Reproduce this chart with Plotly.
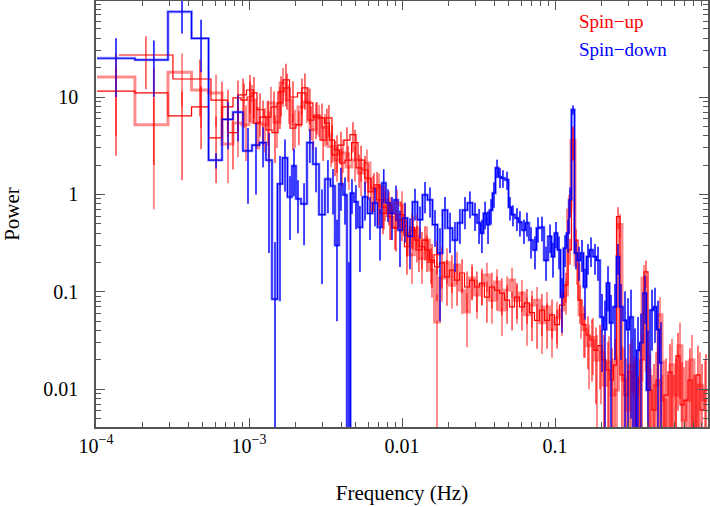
import numpy as np
import plotly.graph_objects as go

# ---------------- data ----------------
# Spin-down (blue)
f_down = [1.351e-4, 2.39e-4, 3.65e-4, 4.86e-4, 6.09e-4, 7.29e-4, 8.47e-4, 9.85e-4, 1.111e-3, 1.235e-3,
          1.351e-3, 1.479e-3, 1.594e-3, 1.719e-3, 1.853e-3, 1.968e-3, 2.09e-3, 2.29e-3, 2.50e-3, 2.74e-3,
          3.0e-3, 3.28e-3, 3.54e-3, 3.76e-3, 3.99e-3, 4.24e-3, 4.50e-3, 4.71e-3, 5.0e-3, 5.31e-3,
          5.73e-3, 6.18e-3, 6.66e-3, 7.18e-3, 7.6e-3, 8.1e-3, 8.6e-3, 9.14e-3, 9.70e-3, 1.046e-2,
          1.128e-2, 1.216e-2, 1.311e-2, 1.414e-2, 1.524e-2, 1.643e-2, 1.772e-2, 1.91e-2, 2.06e-2, 2.22e-2,
          2.39e-2, 2.58e-2, 2.78e-2, 3.0e-2, 3.19e-2, 3.33e-2, 3.49e-2, 3.65e-2, 3.82e-2, 3.99e-2,
          4.18e-2, 4.37e-2, 4.57e-2, 4.86e-2, 5.08e-2, 5.31e-2, 5.64e-2, 5.90e-2, 6.27e-2, 6.56e-2,
          6.97e-2, 7.40e-2, 7.74e-2, 8.22e-2, 8.74e-2, 9.28e-2, 9.70e-2, 0.1015, 0.1062, 0.1111,
          0.1163, 0.1216, 0.1253, 0.1311, 0.1372, 0.1435, 0.1501, 0.1571, 0.1643, 0.1719,
          0.1826, 0.191, 0.2029, 0.2122, 0.2221, 0.2323, 0.2467, 0.2581, 0.270, 0.2868,
          0.300, 0.3139, 0.3334, 0.3487, 0.3649, 0.3874, 0.4053, 0.4305, 0.4503, 0.4712, 0.493]
p_down = [25, 24, 75, 40, 2.25, 5.9, 7.0, 2.8, 3.2, 3.4,
          2.25, 0.084, 1.28, 2.37, 0.94, 1.96, 0.90, 0.80, 3.4, 2.05,
          0.62, 1.44, 1.22, 0.30, 1.28, 0.99, 0.001, 1.03, 0.84, 0.46,
          0.94, 0.64, 0.82, 0.46, 1.31, 0.82, 0.64, 0.88, 0.43, 0.57,
          0.37, 0.84, 0.55, 0.99, 0.88, 0.49, 0.25, 0.69, 0.45, 0.34,
          0.51, 0.69, 0.82, 0.62, 0.51, 0.40, 0.64, 0.49, 0.69, 1.03,
          1.87, 1.51, 1.47, 1.41, 0.74, 0.62, 0.57, 0.52, 0.43, 0.51,
          0.34, 0.27, 0.45, 0.46, 0.21, 0.37, 0.23, 0.40, 0.27, 0.088,
          0.28, 0.40, 0.88, 7.4, 0.25, 0.21, 0.25, 0.112, 0.23, 0.27,
          0.23, 0.21, 0.055, 0.041, 0.123, 0.048, 0.070, 0.23, 0.070, 0.051,
          0.041, 0.055, 0.002, 0.025, 0.030, 0.097, 0.0098, 0.065, 0.070, 0.041, 0.0186]
e_down = [15, 14, 30, 22, 0.4, 3, 3.5, 2, 2.2, 1.5,
          2, 0.24, 1.2, 1.3, 0.6, 1.0, 0.5, 0.5, 1.3, 1.0,
          0.5, 0.8, 0.6, 0.25, 0.6, 0.5, 0.2, 0.4, 0.4, 0.3,
          0.4, 0.3, 0.35, 0.25, 0.5, 0.3, 0.3, 0.35, 0.25, 0.25,
          0.2, 0.3, 0.2, 0.35, 0.3, 0.2, 0.2, 0.25, 0.2, 0.18,
          0.2, 0.25, 0.25, 0.2, 0.2, 0.15, 0.2, 0.18, 0.2, 0.3,
          0.4, 0.35, 0.3, 0.3, 0.2, 0.15, 0.15, 0.15, 0.12, 0.14,
          0.12, 0.1, 0.13, 0.13, 0.08, 0.12, 0.09, 0.12, 0.1, 0.05,
          0.1, 0.15, 0.3, 0.8, 0.08, 0.08, 0.09, 0.06, 0.08, 0.09,
          0.08, 0.08, 0.04, 0.04, 0.06, 0.045, 0.05, 0.08, 0.05, 0.05,
          0.045, 0.05, 0.04, 0.03, 0.03, 0.05, 0.03, 0.04, 0.04, 0.04, 0.03]

# Spin-up (red), spectrum A (thin)
f_upA = [1.351e-4, 2.39e-4, 3.65e-4, 4.86e-4, 6.09e-4, 7.29e-4, 8.47e-4, 9.28e-4, 1.015e-3, 1.078e-3,
         1.18e-3, 1.331e-3, 1.457e-3, 1.594e-3, 1.745e-3, 1.939e-3, 2.22e-3, 2.50e-3, 2.74e-3, 3.0e-3,
         3.23e-3, 3.49e-3, 3.76e-3, 4.05e-3, 4.44e-3, 4.93e-3, 5.40e-3, 6.0e-3, 6.56e-3, 7.07e-3,
         7.62e-3, 8.35e-3, 9.14e-3, 1.0e-2, 1.078e-2, 1.163e-2, 1.253e-2, 1.351e-2, 1.457e-2, 1.571e-2,
         1.693e-2, 1.826e-2, 1.968e-2, 2.12e-2, 2.29e-2, 2.47e-2, 2.66e-2, 2.87e-2, 3.09e-2, 3.33e-2,
         3.59e-2, 3.87e-2, 4.18e-2, 4.50e-2, 4.86e-2, 5.24e-2, 5.64e-2, 6.08e-2, 6.56e-2, 7.07e-2,
         7.63e-2, 8.22e-2, 8.87e-2, 9.56e-2, 0.1031, 0.1111, 0.118, 0.1253, 0.1311, 0.1372,
         0.1457, 0.1547, 0.1643, 0.1745, 0.1853, 0.1968, 0.209, 0.2221, 0.2358, 0.2467,
         0.2581, 0.2741, 0.2912, 0.3093, 0.3284, 0.3487, 0.3703, 0.3933, 0.4177, 0.4437,
         0.4712, 0.5004, 0.5314, 0.5644, 0.5994, 0.6366, 0.676, 0.718, 0.7625, 0.8098,
         0.86, 0.9134, 0.9702]
p_upA = [11.5, 11, 6.4, 7.9, 3.8, 7.9, 9.8, 9.3, 10, 11,
         7.4, 6.2, 7.9, 8.7, 15, 10, 11, 8.7, 6.2, 6.1,
         5.4, 3.6, 2.86, 2.1, 2.25, 3.4, 2.25, 1.47, 1.16, 0.88,
         0.74, 0.59, 0.46, 0.55, 0.29, 0.46, 0.34, 0.29, 0.27, 0.21,
         0.18, 0.198, 0.142, 0.167, 0.132, 0.156, 0.112, 0.132, 0.112, 0.123,
         0.088, 0.112, 0.104, 0.097, 0.082, 0.070, 0.088, 0.070, 0.077, 0.061,
         0.051, 0.065, 0.051, 0.058, 0.046, 0.073, 0.117, 0.27, 3.6, 0.34,
         0.082, 0.046, 0.036, 0.032, 0.025, 0.028, 0.020, 0.0157, 0.0124, 0.0177,
         0.59, 0.014, 0.0087, 0.015, 0.0098, 0.002, 0.020, 0.16, 0.0098, 0.0061,
         0.0124, 0.002, 0.0087, 0.015, 0.002, 0.022, 0.0069, 0.0077, 0.0124, 0.002,
         0.014, 0.0061, 0.0098]
e_upA = [9, 9, 5, 5, 2.5, 4, 5, 4.5, 4.5, 5,
         3.5, 3, 3.5, 4, 7, 4.5, 4.5, 3.5, 2.5, 2.5,
         2.2, 1.5, 1.2, 0.9, 0.9, 1.2, 0.9, 0.6, 0.5, 0.4,
         0.3, 0.25, 0.2, 0.22, 0.14, 0.18, 0.14, 0.12, 0.11, 0.1,
         0.1, 0.09, 0.07, 0.07, 0.06, 0.06, 0.05, 0.05, 0.05, 0.05,
         0.04, 0.045, 0.04, 0.04, 0.035, 0.03, 0.035, 0.03, 0.03, 0.03,
         0.025, 0.03, 0.025, 0.025, 0.02, 0.03, 0.04, 0.08, 1.3, 0.1,
         0.035, 0.025, 0.02, 0.02, 0.018, 0.018, 0.016, 0.015, 0.014, 0.015,
         0.15, 0.014, 0.012, 0.014, 0.012, 0.012, 0.016, 0.05, 0.013, 0.012,
         0.014, 0.012, 0.012, 0.014, 0.012, 0.016, 0.012, 0.012, 0.014, 0.012,
         0.014, 0.012, 0.013]

# Spin-up (red), spectrum B (translucent)
f_upB = [1.351e-4, 2.39e-4, 3.65e-4, 4.86e-4, 6.09e-4, 7.29e-4, 8.47e-4, 9.56e-4, 1.046e-3, 1.163e-3,
         1.273e-3, 1.392e-3, 1.524e-3, 1.668e-3, 1.826e-3, 1.998e-3, 2.19e-3, 2.39e-3, 2.62e-3, 2.87e-3,
         3.14e-3, 3.44e-3, 3.76e-3, 4.12e-3, 4.50e-3, 4.93e-3, 5.40e-3, 5.90e-3, 6.46e-3, 7.07e-3,
         7.74e-3, 8.47e-3, 9.28e-3, 1.0e-2, 1.078e-2, 1.163e-2, 1.253e-2, 1.351e-2, 1.457e-2, 1.571e-2,
         1.693e-2, 1.826e-2, 1.968e-2, 2.12e-2, 2.29e-2, 2.47e-2, 2.66e-2, 2.87e-2, 3.09e-2, 3.33e-2,
         3.59e-2, 3.87e-2, 4.18e-2, 4.50e-2, 4.86e-2, 5.24e-2, 5.64e-2, 6.08e-2, 6.56e-2, 7.07e-2,
         7.63e-2, 8.22e-2, 8.87e-2, 9.56e-2, 0.1031, 0.1111, 0.118, 0.1235, 0.1311, 0.1392,
         0.1479, 0.1571, 0.1668, 0.1772, 0.1882, 0.1998, 0.2122, 0.2254, 0.2393, 0.2542,
         0.2659, 0.2825, 0.300, 0.3187, 0.3384, 0.3594, 0.3817, 0.4053, 0.4305, 0.4572,
         0.4857, 0.5157, 0.5478, 0.5817, 0.6178, 0.6561, 0.6967, 0.7399, 0.7859, 0.8346,
         0.8864, 0.9559]
p_upB = [16, 5.2, 18, 11.8, 11, 3.3, 5.4, 5.2, 9.3, 5.4,
         5.2, 8.7, 5.5, 13.9, 9.3, 5.2, 7.9, 8.9, 4.6, 6.1,
         4.9, 3.1, 2.25, 2.66, 1.91, 2.25, 1.66, 2.1, 1.11, 1.19,
         0.88, 0.64, 0.82, 0.78, 0.40, 0.24, 0.45, 0.22, 0.34, 0.167,
         0.049, 0.139, 0.20, 0.117, 0.188, 0.104, 0.062, 0.139, 0.093, 0.117,
         0.149, 0.082, 0.126, 0.065, 0.104, 0.132, 0.082, 0.097, 0.058, 0.073,
         0.082, 0.048, 0.070, 0.041, 0.054, 0.065, 0.093, 0.69, 3.6, 0.188,
         0.058, 0.041, 0.028, 0.034, 0.020, 0.024, 0.011, 0.019, 0.0087, 0.0098,
         0.49, 0.0124, 0.0061, 0.0177, 0.0087, 0.0124, 0.139, 0.0157, 0.002, 0.011,
         0.058, 0.0077, 0.002, 0.0177, 0.0087, 0.028, 0.0048, 0.0077, 0.020, 0.002,
         0.011, 0.0077]
e_upB = [12, 4.5, 10, 7, 6, 2, 3, 3, 4, 2.5,
         2.5, 4, 2.5, 6, 4, 2.2, 3, 3.5, 1.8, 2.2,
         1.8, 1.2, 0.9, 1.0, 0.8, 0.9, 0.7, 0.8, 0.45, 0.45,
         0.35, 0.3, 0.3, 0.3, 0.17, 0.12, 0.17, 0.1, 0.13, 0.08,
         0.045, 0.06, 0.08, 0.05, 0.07, 0.045, 0.035, 0.055, 0.04, 0.045,
         0.05, 0.035, 0.045, 0.03, 0.04, 0.045, 0.035, 0.035, 0.03, 0.03,
         0.03, 0.025, 0.03, 0.02, 0.025, 0.03, 0.035, 0.3, 1.4, 0.07,
         0.025, 0.02, 0.018, 0.02, 0.016, 0.017, 0.013, 0.016, 0.012, 0.012,
         0.14, 0.014, 0.012, 0.015, 0.012, 0.014, 0.05, 0.015, 0.012, 0.013,
         0.03, 0.012, 0.012, 0.015, 0.012, 0.02, 0.012, 0.012, 0.016, 0.012,
         0.013, 0.012]

# Spin-up (red), spectrum C (thin, low frequencies)
f_upC = [2.12e-4, 4.78e-4, 6.66e-4, 7.86e-4, 9.14e-4, 1.015e-3, 1.128e-3, 1.235e-3, 1.351e-3, 1.479e-3,
         1.619e-3, 1.772e-3, 1.939e-3, 2.12e-3, 2.32e-3, 2.54e-3, 2.78e-3, 3.05e-3, 3.33e-3, 3.65e-3,
         3.99e-3, 4.37e-3, 4.78e-3, 5.24e-3, 5.73e-3, 6.27e-3, 6.87e-3, 7.51e-3, 8.22e-3, 9.0e-3,
         9.85e-3, 1.078e-2, 1.18e-2, 1.291e-2, 1.414e-2, 1.548e-2, 1.693e-2]
p_upC = [27, 15.3, 9.3, 4.3, 10.5, 11.8, 5.4, 6.2, 4.6, 4.3,
         11.3, 12.4, 4.8, 5.2, 12.4, 5.8, 6.5, 3.6, 6.1, 2.54,
         3.2, 3.6, 4.1, 1.87, 1.78, 1.06, 1.25, 0.64, 0.78, 0.45,
         0.62, 0.38, 0.43, 0.27, 0.34, 0.20, 0.24]
e_upC = [15, 9, 5, 2.5, 5, 5, 2.5, 3, 2.5, 2.2,
         5, 5, 2, 2, 5, 2.2, 2.4, 1.4, 2.2, 1,
         1.2, 1.3, 1.4, 0.7, 0.7, 0.4, 0.45, 0.25, 0.3, 0.18,
         0.22, 0.15, 0.16, 0.11, 0.13, 0.08, 0.09]

x_tick_vals = [1e-4, 1e-3, 1e-2, 1e-1, 1]
x_tick_text = ["10<sup>\u22124</sup>", "10<sup>\u22123</sup>", "0.01", "0.1", "1"]
y_tick_vals = [0.01, 0.1, 1, 10]
y_tick_text = ["0.01", "0.1", "1", "10"]
legend_labels = ["Spin\u2212up", "Spin\u2212down"]

RED = "rgb(255,0,0)"
RED_T = "rgba(255,0,0,0.45)"
BLUE = "rgb(0,0,255)"
BLUE_T = "rgba(0,0,255,0.4)"


def bin_edges(fc):
    c = np.log10(np.asarray(fc, float))
    mid = (c[:-1] + c[1:]) / 2
    first = c[0] - (mid[0] - c[0])
    last = c[-1] + (c[-1] - mid[-1])
    return 10 ** np.concatenate([[first], mid, [last]])


def add_spectrum(fig, fc, p, e, color, width, err_color, err_w):
    edges = bin_edges(fc)
    fig.add_trace(go.Scatter(
        x=list(edges), y=list(p) + [p[-1]], mode="lines", line_shape="hv",
        line=dict(color=color, width=width), hoverinfo="skip"))
    fig.add_trace(go.Scatter(
        x=fc, y=p, mode="markers", marker=dict(color="rgba(0,0,0,0)", size=2),
        error_y=dict(type="data", array=e, symmetric=True, color=err_color,
                     thickness=err_w, width=0)))


fig = go.Figure()
add_spectrum(fig, f_down, p_down, e_down, BLUE_T, 2.8, BLUE_T, 2.0)
add_spectrum(fig, f_upB, p_upB, e_upB, RED_T, 3.0, RED_T, 2.0)
add_spectrum(fig, f_upC, p_upC, e_upC, RED, 1.2, RED, 1.1)
add_spectrum(fig, f_upA, p_upA, e_upA, RED, 1.2, RED, 1.1)
add_spectrum(fig, f_down, p_down, e_down, BLUE, 1.2, BLUE, 1.1)

AX = "#555555"
fig.update_xaxes(type="log", range=[-4, 0], tickmode="array", tickvals=x_tick_vals, ticktext=x_tick_text,
                 ticks="inside", ticklen=9, tickwidth=1.3, tickcolor=AX, showline=True, linecolor=AX,
                 linewidth=1.5, mirror="ticks", showgrid=False, zeroline=False, ticklabelstandoff=0,
                 minor=dict(ticks="inside", ticklen=5, tickwidth=1.1, tickcolor=AX, dtick="D1", showgrid=False),
                 tickfont=dict(size=20), title=dict(text="Frequency (Hz)", font=dict(size=21), standoff=30))
fig.update_yaxes(type="log", range=[-2.388, 1.9856], tickmode="array", tickvals=y_tick_vals, ticktext=y_tick_text,
                 ticks="inside", ticklen=9, tickwidth=1.3, tickcolor=AX, showline=True, linecolor=AX,
                 linewidth=1.5, mirror="ticks", showgrid=False, zeroline=False, ticklabelstandoff=12,
                 minor=dict(ticks="inside", ticklen=5, tickwidth=1.1, tickcolor=AX, dtick="D1", showgrid=False),
                 tickfont=dict(size=20), title=dict(text="Power", font=dict(size=21), standoff=21))

fig.add_annotation(text=legend_labels[0], xref="paper", yref="paper", x=0.786, y=0.951,
                   xanchor="left", yanchor="middle", showarrow=False, font=dict(color="red", size=19))
fig.add_annotation(text=legend_labels[1], xref="paper", yref="paper", x=0.786, y=0.887,
                   xanchor="left", yanchor="middle", showarrow=False, font=dict(color="blue", size=19))

fig.update_layout(width=710, height=507, margin=dict(l=96, r=2, t=1, b=80, autoexpand=False),
                  paper_bgcolor="white", plot_bgcolor="white", showlegend=False,
                  font=dict(family="Liberation Serif", size=20, color="black"))

fig.write_html("out.html", config={"displayModeBar": False},
               post_script="document.body.style.margin='0';document.body.style.padding='0';document.body.style.overflow='hidden';")
